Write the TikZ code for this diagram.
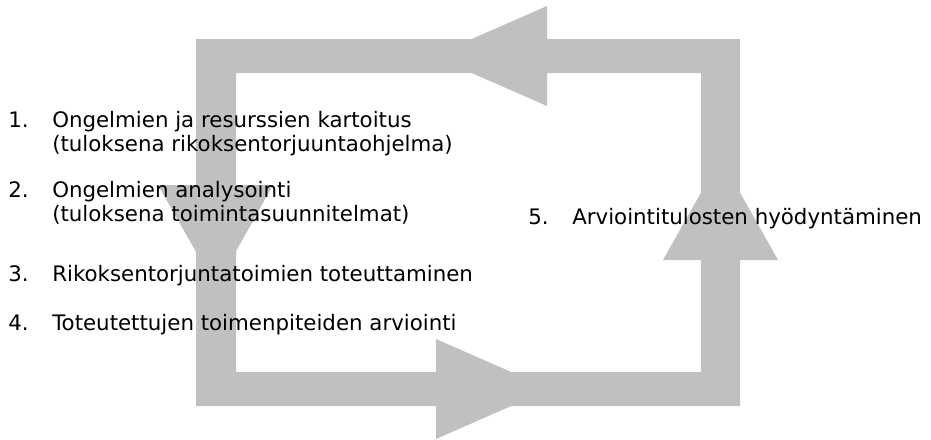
\documentclass[tikz,border=0pt]{standalone}
\usepackage{fontspec}
\setmainfont{DejaVu Sans}
\usepackage{tikz}
\usetikzlibrary{positioning}
\definecolor{cyclegray}{RGB}{192,192,192}

\begin{document}
\begin{tikzpicture}[x=0.75pt, y=-0.75pt,
    every node/.style={font=\fontsize{16}{19}\selectfont, inner sep=0pt, anchor=base west}]
\useasboundingbox (0,0) rectangle (931,439);

% frame of the cycle
\fill[cyclegray, even odd rule] (196,39) rectangle (740,406) (236,73) rectangle (701,372);

% arrow heads
\fill[cyclegray] (547,6) -- (433,56) -- (547,106) -- cycle;
\fill[cyclegray] (158,185) -- (216,287) -- (273,185) -- cycle;
\fill[cyclegray] (436,339) -- (550,389) -- (436,439) -- cycle;
\fill[cyclegray] (663,260) -- (720.5,158) -- (778,260) -- cycle;

% steps
\node (n1) at (8,127) {1.};
\node (t1) at (52,127) {Ongelmien ja resurssien kartoitus};
\node (t1b) at (52,151) {(tuloksena rikoksentorjuuntaohjelma)};

\node (n2) at (8,197) {2.};
\node (t2) at (52,197) {Ongelmien analysointi};
\node (t2b) at (52,221) {(tuloksena toimintasuunnitelmat)};

\node (n3) at (8,281) {3.};
\node (t3) at (52,281) {Rikoksentorjuntatoimien toteuttaminen};

\node (n4) at (8,330) {4.};
\node (t4) at (52,330) {Toteutettujen toimenpiteiden arviointi};

\node (n5) at (528,224) {5.};
\node (t5) at (572,224) {Arviointitulosten hyödyntäminen};

\end{tikzpicture}
\end{document}
